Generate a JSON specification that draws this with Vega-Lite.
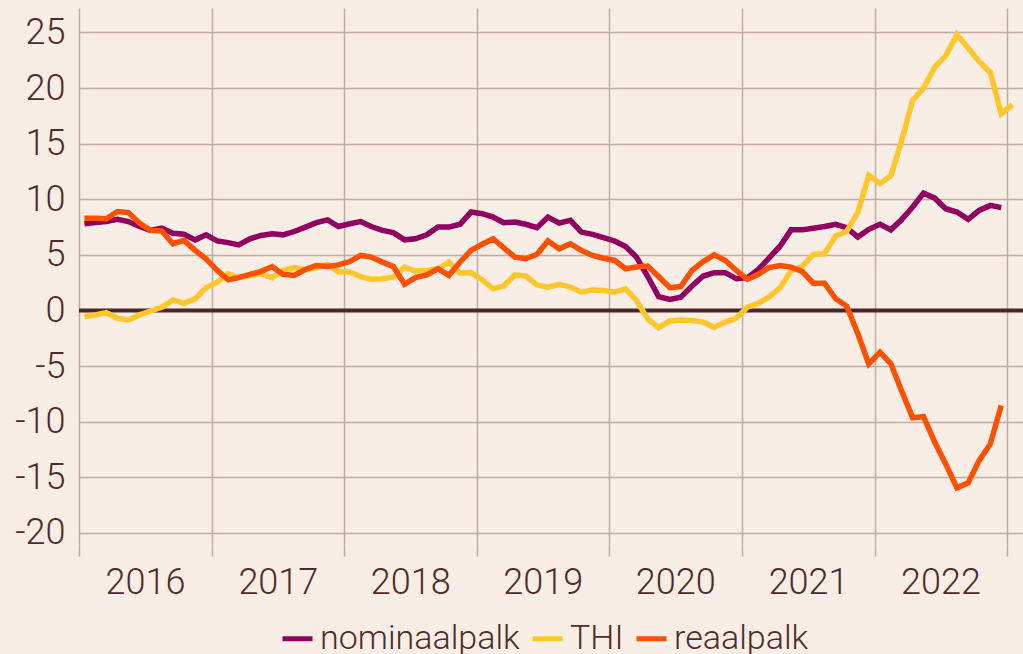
{
  "$schema": "https://vega.github.io/schema/vega-lite/v6.json",
  "autosize": "none",
  "width": 944,
  "height": 536,
  "padding": {"left": 79, "top": 8, "right": 0, "bottom": 110},
  "background": "#f8eee5",
  "config": {
    "view": {"stroke": null},
    "font": "Roboto",
    "axis": {"labelFont": "Roboto", "labelFontWeight": 300, "labelColor": "#4f2b2b", "gridColor": "#bfaaa5", "gridWidth": 1.5, "gridOpacity": 1, "domain": false, "title": null}
  },
  "layer": [
    {
      "data": {"values": [{"z": 0}]},
      "mark": {"type": "rule", "color": "#4a2828", "strokeWidth": 4},
      "encoding": {"y": {"field": "z", "type": "quantitative"}}
    },
    {
      "data": {"values": [
        {"date": "2016-01-16", "nominaalpalk": 7.8, "THI": -0.55, "reaalpalk": 8.3},
        {"date": "2016-02-15", "nominaalpalk": 7.9, "THI": -0.4, "reaalpalk": 8.3},
        {"date": "2016-03-16", "nominaalpalk": 8.0, "THI": -0.2, "reaalpalk": 8.25},
        {"date": "2016-04-16", "nominaalpalk": 8.2, "THI": -0.7, "reaalpalk": 8.9},
        {"date": "2016-05-16", "nominaalpalk": 8.0, "THI": -0.85, "reaalpalk": 8.8},
        {"date": "2016-06-16", "nominaalpalk": 7.55, "THI": -0.4, "reaalpalk": 7.85},
        {"date": "2016-07-16", "nominaalpalk": 7.2, "THI": -0.05, "reaalpalk": 7.2},
        {"date": "2016-08-16", "nominaalpalk": 7.4, "THI": 0.3, "reaalpalk": 7.15},
        {"date": "2016-09-16", "nominaalpalk": 6.95, "THI": 0.95, "reaalpalk": 6.0},
        {"date": "2016-10-16", "nominaalpalk": 6.85, "THI": 0.65, "reaalpalk": 6.3},
        {"date": "2016-11-16", "nominaalpalk": 6.35, "THI": 1.05, "reaalpalk": 5.4},
        {"date": "2016-12-16", "nominaalpalk": 6.8, "THI": 2.05, "reaalpalk": 4.65},
        {"date": "2017-01-16", "nominaalpalk": 6.25, "THI": 2.55, "reaalpalk": 3.6},
        {"date": "2017-02-15", "nominaalpalk": 6.1, "THI": 3.3, "reaalpalk": 2.75},
        {"date": "2017-03-16", "nominaalpalk": 5.9, "THI": 2.95, "reaalpalk": 2.95},
        {"date": "2017-04-16", "nominaalpalk": 6.45, "THI": 3.15, "reaalpalk": 3.25},
        {"date": "2017-05-16", "nominaalpalk": 6.75, "THI": 3.3, "reaalpalk": 3.5},
        {"date": "2017-06-16", "nominaalpalk": 6.9, "THI": 2.95, "reaalpalk": 3.95},
        {"date": "2017-07-16", "nominaalpalk": 6.8, "THI": 3.6, "reaalpalk": 3.25},
        {"date": "2017-08-16", "nominaalpalk": 7.1, "THI": 3.85, "reaalpalk": 3.15},
        {"date": "2017-09-16", "nominaalpalk": 7.5, "THI": 3.65, "reaalpalk": 3.7},
        {"date": "2017-10-16", "nominaalpalk": 7.9, "THI": 3.85, "reaalpalk": 4.05},
        {"date": "2017-11-16", "nominaalpalk": 8.15, "THI": 4.15, "reaalpalk": 3.95},
        {"date": "2017-12-16", "nominaalpalk": 7.55, "THI": 3.45, "reaalpalk": 4.1},
        {"date": "2018-01-16", "nominaalpalk": 7.8, "THI": 3.45, "reaalpalk": 4.4},
        {"date": "2018-02-15", "nominaalpalk": 8.0, "THI": 3.05, "reaalpalk": 4.95},
        {"date": "2018-03-16", "nominaalpalk": 7.55, "THI": 2.8, "reaalpalk": 4.8},
        {"date": "2018-04-16", "nominaalpalk": 7.2, "THI": 2.85, "reaalpalk": 4.35},
        {"date": "2018-05-16", "nominaalpalk": 7.0, "THI": 3.0, "reaalpalk": 3.95},
        {"date": "2018-06-16", "nominaalpalk": 6.35, "THI": 3.9, "reaalpalk": 2.35},
        {"date": "2018-07-16", "nominaalpalk": 6.45, "THI": 3.55, "reaalpalk": 2.95},
        {"date": "2018-08-16", "nominaalpalk": 6.8, "THI": 3.6, "reaalpalk": 3.2},
        {"date": "2018-09-16", "nominaalpalk": 7.5, "THI": 3.75, "reaalpalk": 3.75},
        {"date": "2018-10-16", "nominaalpalk": 7.5, "THI": 4.35, "reaalpalk": 3.15},
        {"date": "2018-11-16", "nominaalpalk": 7.75, "THI": 3.35, "reaalpalk": 4.35},
        {"date": "2018-12-16", "nominaalpalk": 8.85, "THI": 3.4, "reaalpalk": 5.4},
        {"date": "2019-01-16", "nominaalpalk": 8.7, "THI": 2.75, "reaalpalk": 5.95},
        {"date": "2019-02-15", "nominaalpalk": 8.4, "THI": 1.95, "reaalpalk": 6.45},
        {"date": "2019-03-16", "nominaalpalk": 7.9, "THI": 2.2, "reaalpalk": 5.65},
        {"date": "2019-04-16", "nominaalpalk": 7.95, "THI": 3.2, "reaalpalk": 4.8},
        {"date": "2019-05-16", "nominaalpalk": 7.75, "THI": 3.1, "reaalpalk": 4.65},
        {"date": "2019-06-16", "nominaalpalk": 7.45, "THI": 2.3, "reaalpalk": 5.05},
        {"date": "2019-07-16", "nominaalpalk": 8.4, "THI": 2.1, "reaalpalk": 6.25},
        {"date": "2019-08-16", "nominaalpalk": 7.85, "THI": 2.35, "reaalpalk": 5.55},
        {"date": "2019-09-16", "nominaalpalk": 8.1, "THI": 2.1, "reaalpalk": 6.0},
        {"date": "2019-10-16", "nominaalpalk": 7.05, "THI": 1.65, "reaalpalk": 5.4},
        {"date": "2019-11-16", "nominaalpalk": 6.85, "THI": 1.85, "reaalpalk": 4.95},
        {"date": "2019-12-16", "nominaalpalk": 6.55, "THI": 1.8, "reaalpalk": 4.7},
        {"date": "2020-01-16", "nominaalpalk": 6.25, "THI": 1.65, "reaalpalk": 4.5},
        {"date": "2020-02-15", "nominaalpalk": 5.75, "THI": 1.95, "reaalpalk": 3.75},
        {"date": "2020-03-16", "nominaalpalk": 4.8, "THI": 0.9, "reaalpalk": 3.9},
        {"date": "2020-04-16", "nominaalpalk": 3.05, "THI": -0.75, "reaalpalk": 4.0},
        {"date": "2020-05-16", "nominaalpalk": 1.25, "THI": -1.55, "reaalpalk": 3.05},
        {"date": "2020-06-16", "nominaalpalk": 1.0, "THI": -0.95, "reaalpalk": 2.05},
        {"date": "2020-07-16", "nominaalpalk": 1.2, "THI": -0.85, "reaalpalk": 2.15},
        {"date": "2020-08-16", "nominaalpalk": 2.2, "THI": -0.9, "reaalpalk": 3.6},
        {"date": "2020-09-16", "nominaalpalk": 3.1, "THI": -1.05, "reaalpalk": 4.4},
        {"date": "2020-10-16", "nominaalpalk": 3.4, "THI": -1.5, "reaalpalk": 5.0},
        {"date": "2020-11-16", "nominaalpalk": 3.4, "THI": -1.05, "reaalpalk": 4.5},
        {"date": "2020-12-16", "nominaalpalk": 2.85, "THI": -0.7, "reaalpalk": 3.6},
        {"date": "2021-01-16", "nominaalpalk": 2.95, "THI": 0.3, "reaalpalk": 2.8},
        {"date": "2021-02-15", "nominaalpalk": 3.7, "THI": 0.65, "reaalpalk": 3.25},
        {"date": "2021-03-16", "nominaalpalk": 4.7, "THI": 1.2, "reaalpalk": 3.85},
        {"date": "2021-04-16", "nominaalpalk": 5.8, "THI": 2.05, "reaalpalk": 4.05},
        {"date": "2021-05-16", "nominaalpalk": 7.25, "THI": 3.6, "reaalpalk": 3.9},
        {"date": "2021-06-16", "nominaalpalk": 7.25, "THI": 3.95, "reaalpalk": 3.5},
        {"date": "2021-07-16", "nominaalpalk": 7.4, "THI": 5.05, "reaalpalk": 2.45},
        {"date": "2021-08-16", "nominaalpalk": 7.55, "THI": 5.1, "reaalpalk": 2.45},
        {"date": "2021-09-16", "nominaalpalk": 7.75, "THI": 6.7, "reaalpalk": 1.05},
        {"date": "2021-10-16", "nominaalpalk": 7.45, "THI": 7.1, "reaalpalk": 0.4},
        {"date": "2021-11-16", "nominaalpalk": 6.6, "THI": 8.85, "reaalpalk": -2.1},
        {"date": "2021-12-16", "nominaalpalk": 7.3, "THI": 12.15, "reaalpalk": -4.8},
        {"date": "2022-01-16", "nominaalpalk": 7.75, "THI": 11.4, "reaalpalk": -3.75},
        {"date": "2022-02-15", "nominaalpalk": 7.25, "THI": 12.1, "reaalpalk": -4.8},
        {"date": "2022-03-16", "nominaalpalk": 8.15, "THI": 15.2, "reaalpalk": -7.2},
        {"date": "2022-04-16", "nominaalpalk": 9.3, "THI": 18.9, "reaalpalk": -9.65},
        {"date": "2022-05-16", "nominaalpalk": 10.55, "THI": 20.0, "reaalpalk": -9.55},
        {"date": "2022-06-16", "nominaalpalk": 10.1, "THI": 21.9, "reaalpalk": -11.85},
        {"date": "2022-07-16", "nominaalpalk": 9.15, "THI": 22.9, "reaalpalk": -13.8},
        {"date": "2022-08-16", "nominaalpalk": 8.85, "THI": 24.8, "reaalpalk": -15.95},
        {"date": "2022-09-16", "nominaalpalk": 8.2, "THI": 23.6, "reaalpalk": -15.5},
        {"date": "2022-10-16", "nominaalpalk": 9.0, "THI": 22.4, "reaalpalk": -13.5},
        {"date": "2022-11-16", "nominaalpalk": 9.45, "THI": 21.4, "reaalpalk": -12.0},
        {"date": "2022-12-16", "nominaalpalk": 9.25, "THI": 17.7, "reaalpalk": -8.55},
        {"date": "2023-01-16", "nominaalpalk": null, "THI": 18.5, "reaalpalk": null}
      ]},
      "transform": [{"fold": ["nominaalpalk", "THI", "reaalpalk"], "as": ["series", "value"]}],
      "mark": {"type": "line", "strokeWidth": 5.5},
      "encoding": {
        "x": {
          "field": "date", "type": "temporal",
          "scale": {"type": "utc", "domain": [{"year": 2016, "month": 1, "date": 1, "utc": true}, {"year": 2023, "month": 2, "date": 14, "utc": true}]},
          "axis": {
            "values": [
              {"year": 2016, "month": 1, "date": 1, "utc": true},
              {"year": 2017, "month": 1, "date": 1, "utc": true},
              {"year": 2018, "month": 1, "date": 1, "utc": true},
              {"year": 2019, "month": 1, "date": 1, "utc": true},
              {"year": 2020, "month": 1, "date": 1, "utc": true},
              {"year": 2021, "month": 1, "date": 1, "utc": true},
              {"year": 2022, "month": 1, "date": 1, "utc": true},
              {"year": 2023, "month": 1, "date": 1, "utc": true}
            ],
            "labelExpr": "utcyear(datum.value) > 2022 ? '' : utcFormat(datum.value, '%Y')",
            "grid": true, "ticks": true, "tickSize": 12, "tickColor": "#bfaaa5", "tickWidth": 1.5,
            "labelOffset": 66, "labelAlign": "center", "labelPadding": 9, "labelFontSize": 36, "labelOverlap": false
          }
        },
        "y": {
          "field": "value", "type": "quantitative",
          "scale": {"domain": [-21, 27.2], "nice": false, "zero": false},
          "axis": {
            "values": [-20, -15, -10, -5, 0, 5, 10, 15, 20, 25],
            "labelExpr": "toString(datum.value)",
            "ticks": false, "labelPadding": 14, "labelFontSize": 36, "grid": true
          }
        },
        "color": {
          "field": "series", "type": "nominal",
          "scale": {"domain": ["nominaalpalk", "THI", "reaalpalk"], "range": ["#910061", "#ffc72c", "#ff5000"]},
          "legend": {
            "orient": "none", "legendX": 201, "legendY": 613, "direction": "horizontal", "title": null,
            "symbolType": "stroke", "symbolSize": 900, "symbolStrokeWidth": 5,
            "labelFont": "Roboto", "labelFontWeight": 300, "labelFontSize": 34, "labelColor": "#4f2b2b",
            "labelLimit": 0, "labelOffset": 5, "columnPadding": 2, "padding": 0
          }
        }
      }
    }
  ]
}
